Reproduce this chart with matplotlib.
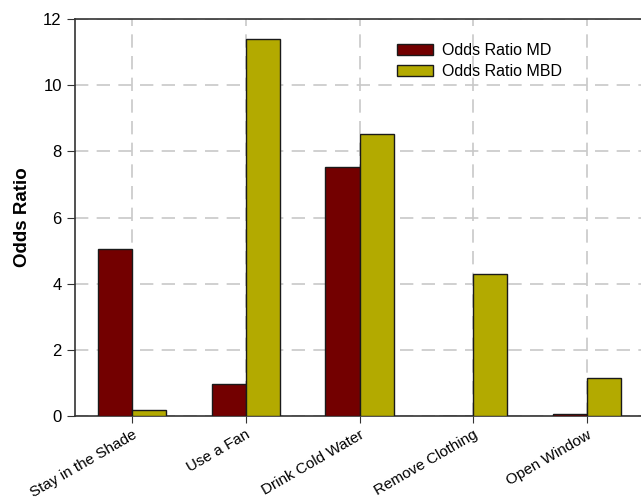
import numpy as np
import matplotlib
matplotlib.use('Agg')
import matplotlib.pyplot as plt

plt.rcParams['font.family'] = ['Liberation Sans', 'DejaVu Sans']

categories = ['Stay in the Shade', 'Use a Fan', 'Drink Cold Water', 'Remove Clothing', 'Open Window']
odds_md = [5.04, 0.96, 7.53, -0.02, 0.05]
odds_mbd = [0.17, 11.39, 8.52, 4.29, 1.16]

fig = plt.figure(figsize=(6.41, 4.99), dpi=100)
ax = fig.add_axes([0.117, 0.1663, 0.8877, 0.7956])

x = np.arange(len(categories))
w = 0.3
ax.bar(x - w/2, odds_md, w, color='#730000', edgecolor='#1a1a1a', linewidth=1.0,
       label='Odds Ratio MD', zorder=3)
ax.bar(x + w/2, odds_mbd, w, color='#b3aa00', edgecolor='#1a1a1a', linewidth=1.0,
       label='Odds Ratio MBD', zorder=3)

ax.set_xlim(-0.5, 4.5)
ax.set_ylim(0, 12)
ax.set_yticks(range(0, 13, 2))
ax.set_xticks(x)
ax.set_xticklabels(categories, rotation=30, ha='right', rotation_mode='anchor', fontsize=11)
ax.tick_params(axis='y', labelsize=12, length=6, direction='out', color='#333333')
ax.tick_params(axis='x', length=5, direction='out', color='#333333')

ax.grid(True, color='#c8c8c8', linestyle=(0, (8, 5)), linewidth=1.2, zorder=0)
ax.set_axisbelow(True)

for s in ['left', 'bottom', 'top']:
    ax.spines[s].set_color('#333333')
    ax.spines[s].set_linewidth(1.2)
ax.spines['right'].set_visible(False)

ax.set_ylabel('Odds Ratio', fontsize=13.5, fontweight='bold', labelpad=9)

ax.legend(loc='upper left', bbox_to_anchor=(0.541, 0.975), frameon=False, fontsize=11.5,
          handlelength=2.25, handleheight=0.63, handletextpad=0.55, labelspacing=0.35)

fig.savefig('out.png', dpi=100)
